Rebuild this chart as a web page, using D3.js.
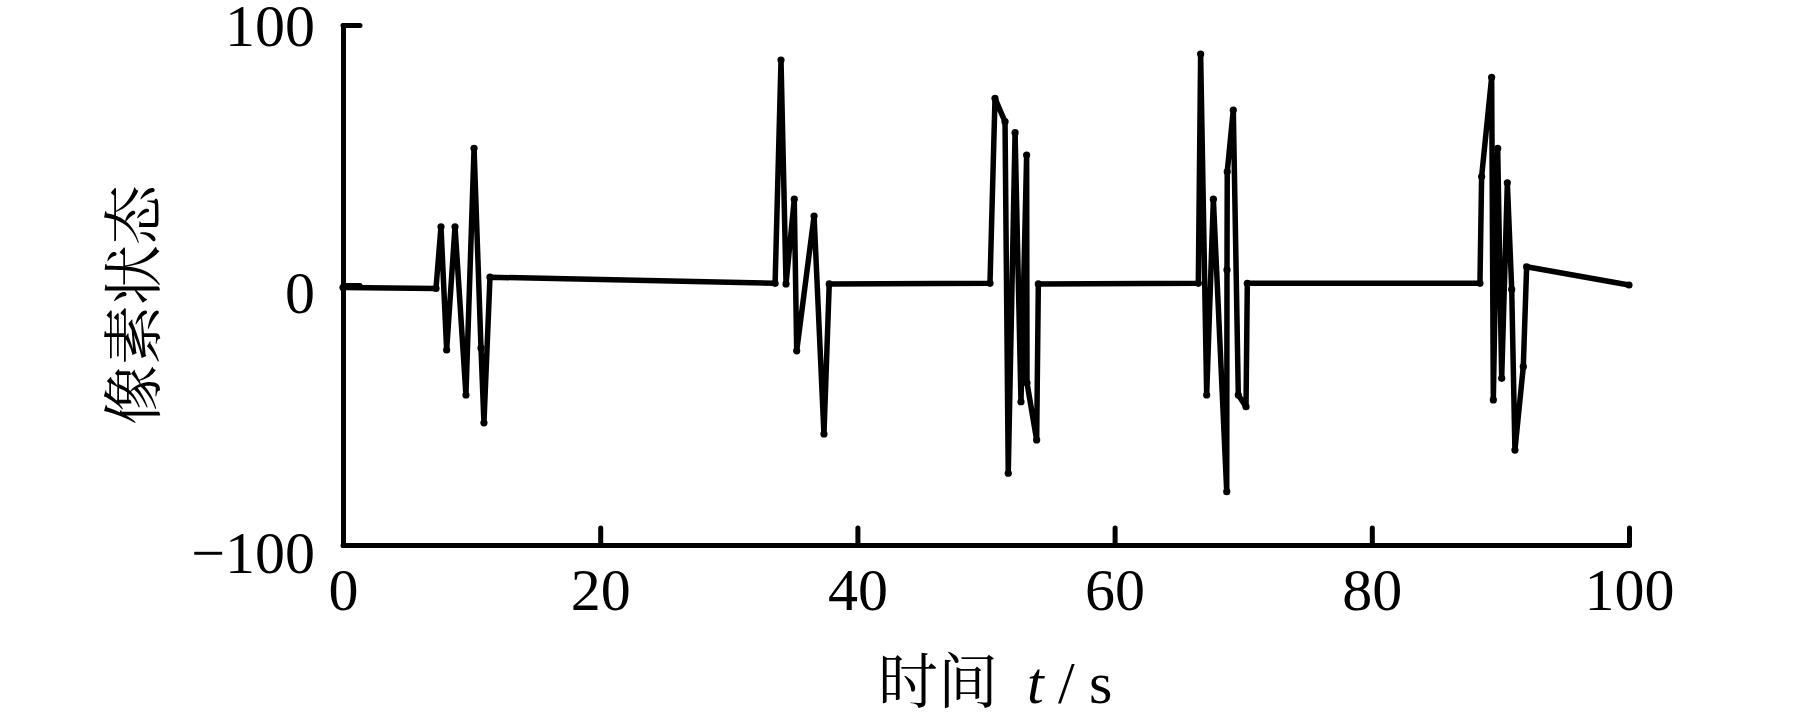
<!DOCTYPE html>
<html>
<head>
<meta charset="utf-8">
<script src="https://cdn.jsdelivr.net/npm/d3@7"></script>
<style>
  html, body { margin: 0; padding: 0; background: #fff; }
  svg { display: block; }
</style>
</head>
<body>
<svg id="chart" width="1819" height="727"></svg>
<script>
// ---- data ----
const times = [
  0, 7.23, 7.62, 8.06, 8.71, 9.56, 10.19, 10.73, 10.96, 11.43,
  33.6, 34.06, 34.45, 35.09, 35.28, 36.63, 37.4, 37.81,
  50.31, 50.7, 51.48, 51.73, 52.26, 52.72, 53.16, 53.19, 53.94, 54.07,
  66.51, 66.69, 67.16, 67.68, 68.72, 68.74, 68.76, 69.23, 69.62, 70.22, 70.32,
  88.41, 88.54, 89.32, 89.45, 89.79, 90.1, 90.54, 90.88, 91.13, 91.78, 92.04, 100
];
const pixelState = [
  -1, -1.3, 22.4, -25, 22.4, -42.3, 52.6, -24.2, -53, 3.0,
  0.65, 86.5, 0.4, 33, -25.3, 26.5, -57.3, 0.4,
  0.65, 71.8, 62.8, -72.4, 58.6, -44.9, 50, -37.7, -59.6, 0.4,
  0.65, 88.8, -42.3, 33, -79.5, 5.8, 43.6, 67.3, -42.3, -46.8, 0.65,
  0.65, 41.7, 79.9, -44.2, 52.6, -35.9, 39.3, -1.7, -63.5, -31.4, 7.0, 0
];
const xTicks = [0, 20, 40, 60, 80, 100];
const yTicks = [-100, 0, 100];
const xTitle = "时间";
const yTitle = "像素状态";

// ---- chart ----
const svg = d3.select("#chart");
const x = d3.scaleLinear().domain([0, 100]).range([343, 1629]);
const y = d3.scaleLinear().domain([-100, 100]).range([545, 25]);

const serif = "'Liberation Serif', 'Times New Roman', serif";
const cjk = "'Noto Serif CJK SC', 'Noto Sans CJK SC', sans-serif";

// x axis
const xAxis = svg.append("g")
  .attr("transform", `translate(0,${y(-100)})`)
  .call(d3.axisBottom(x).tickValues(xTicks).tickSizeInner(-17).tickSizeOuter(0).tickPadding(22).tickFormat(d3.format("d")));

// y axis
const yLabelShift = {"100": 1, "0": 8, "-100": 8};
const yAxis = svg.append("g")
  .attr("transform", `translate(${x(0)},0)`)
  .call(d3.axisLeft(y).tickValues(yTicks).tickSizeInner(-17).tickSizeOuter(0).tickPadding(28)
    .tickFormat(d => d < 0 ? "\u2212" + Math.abs(d) : String(d)));
yAxis.selectAll(".tick text").attr("transform", d => `translate(0,${yLabelShift[String(d)]})`);

[xAxis, yAxis].forEach(g => {
  g.select(".domain").attr("stroke", "#000").attr("stroke-width", 5).attr("stroke-linecap", "round");
  g.selectAll(".tick line").attr("stroke", "#000").attr("stroke-width", 5).attr("stroke-linecap", "round");
  g.selectAll(".tick text").attr("fill", "#000").style("font-family", serif).style("font-size", "60px");
});

// data line
const pts = times.map((t, i) => [t, pixelState[i]]);
svg.append("path")
  .datum(pts)
  .attr("fill", "none")
  .attr("stroke", "#000")
  .attr("stroke-width", 5.5)
  .attr("stroke-linejoin", "round")
  .attr("stroke-linecap", "round")
  .attr("d", d3.line().x(d => x(d[0])).y(d => y(d[1])));

svg.append("g").selectAll("circle")
  .data(pts)
  .join("circle")
  .attr("cx", d => x(d[0]))
  .attr("cy", d => y(d[1]))
  .attr("r", 3.6)
  .attr("fill", "#000");

// x title
const xt = svg.append("text")
  .attr("x", 878).attr("y", 703)
  .attr("fill", "#000")
  .style("font-size", "60px");
xt.append("tspan").style("font-family", cjk).text(xTitle);
xt.append("tspan").attr("x", 1027).style("font-family", serif).style("font-style", "italic").text("t");
xt.append("tspan").attr("x", 1058).style("font-family", serif).text("/");
xt.append("tspan").attr("x", 1089).style("font-family", serif).text("s");

// y title
svg.append("text")
  .attr("transform", "translate(155,305) rotate(-90)")
  .attr("text-anchor", "middle")
  .attr("fill", "#000")
  .style("font-family", cjk)
  .style("font-size", "60px")
  .text(yTitle);
</script>
</body>
</html>
